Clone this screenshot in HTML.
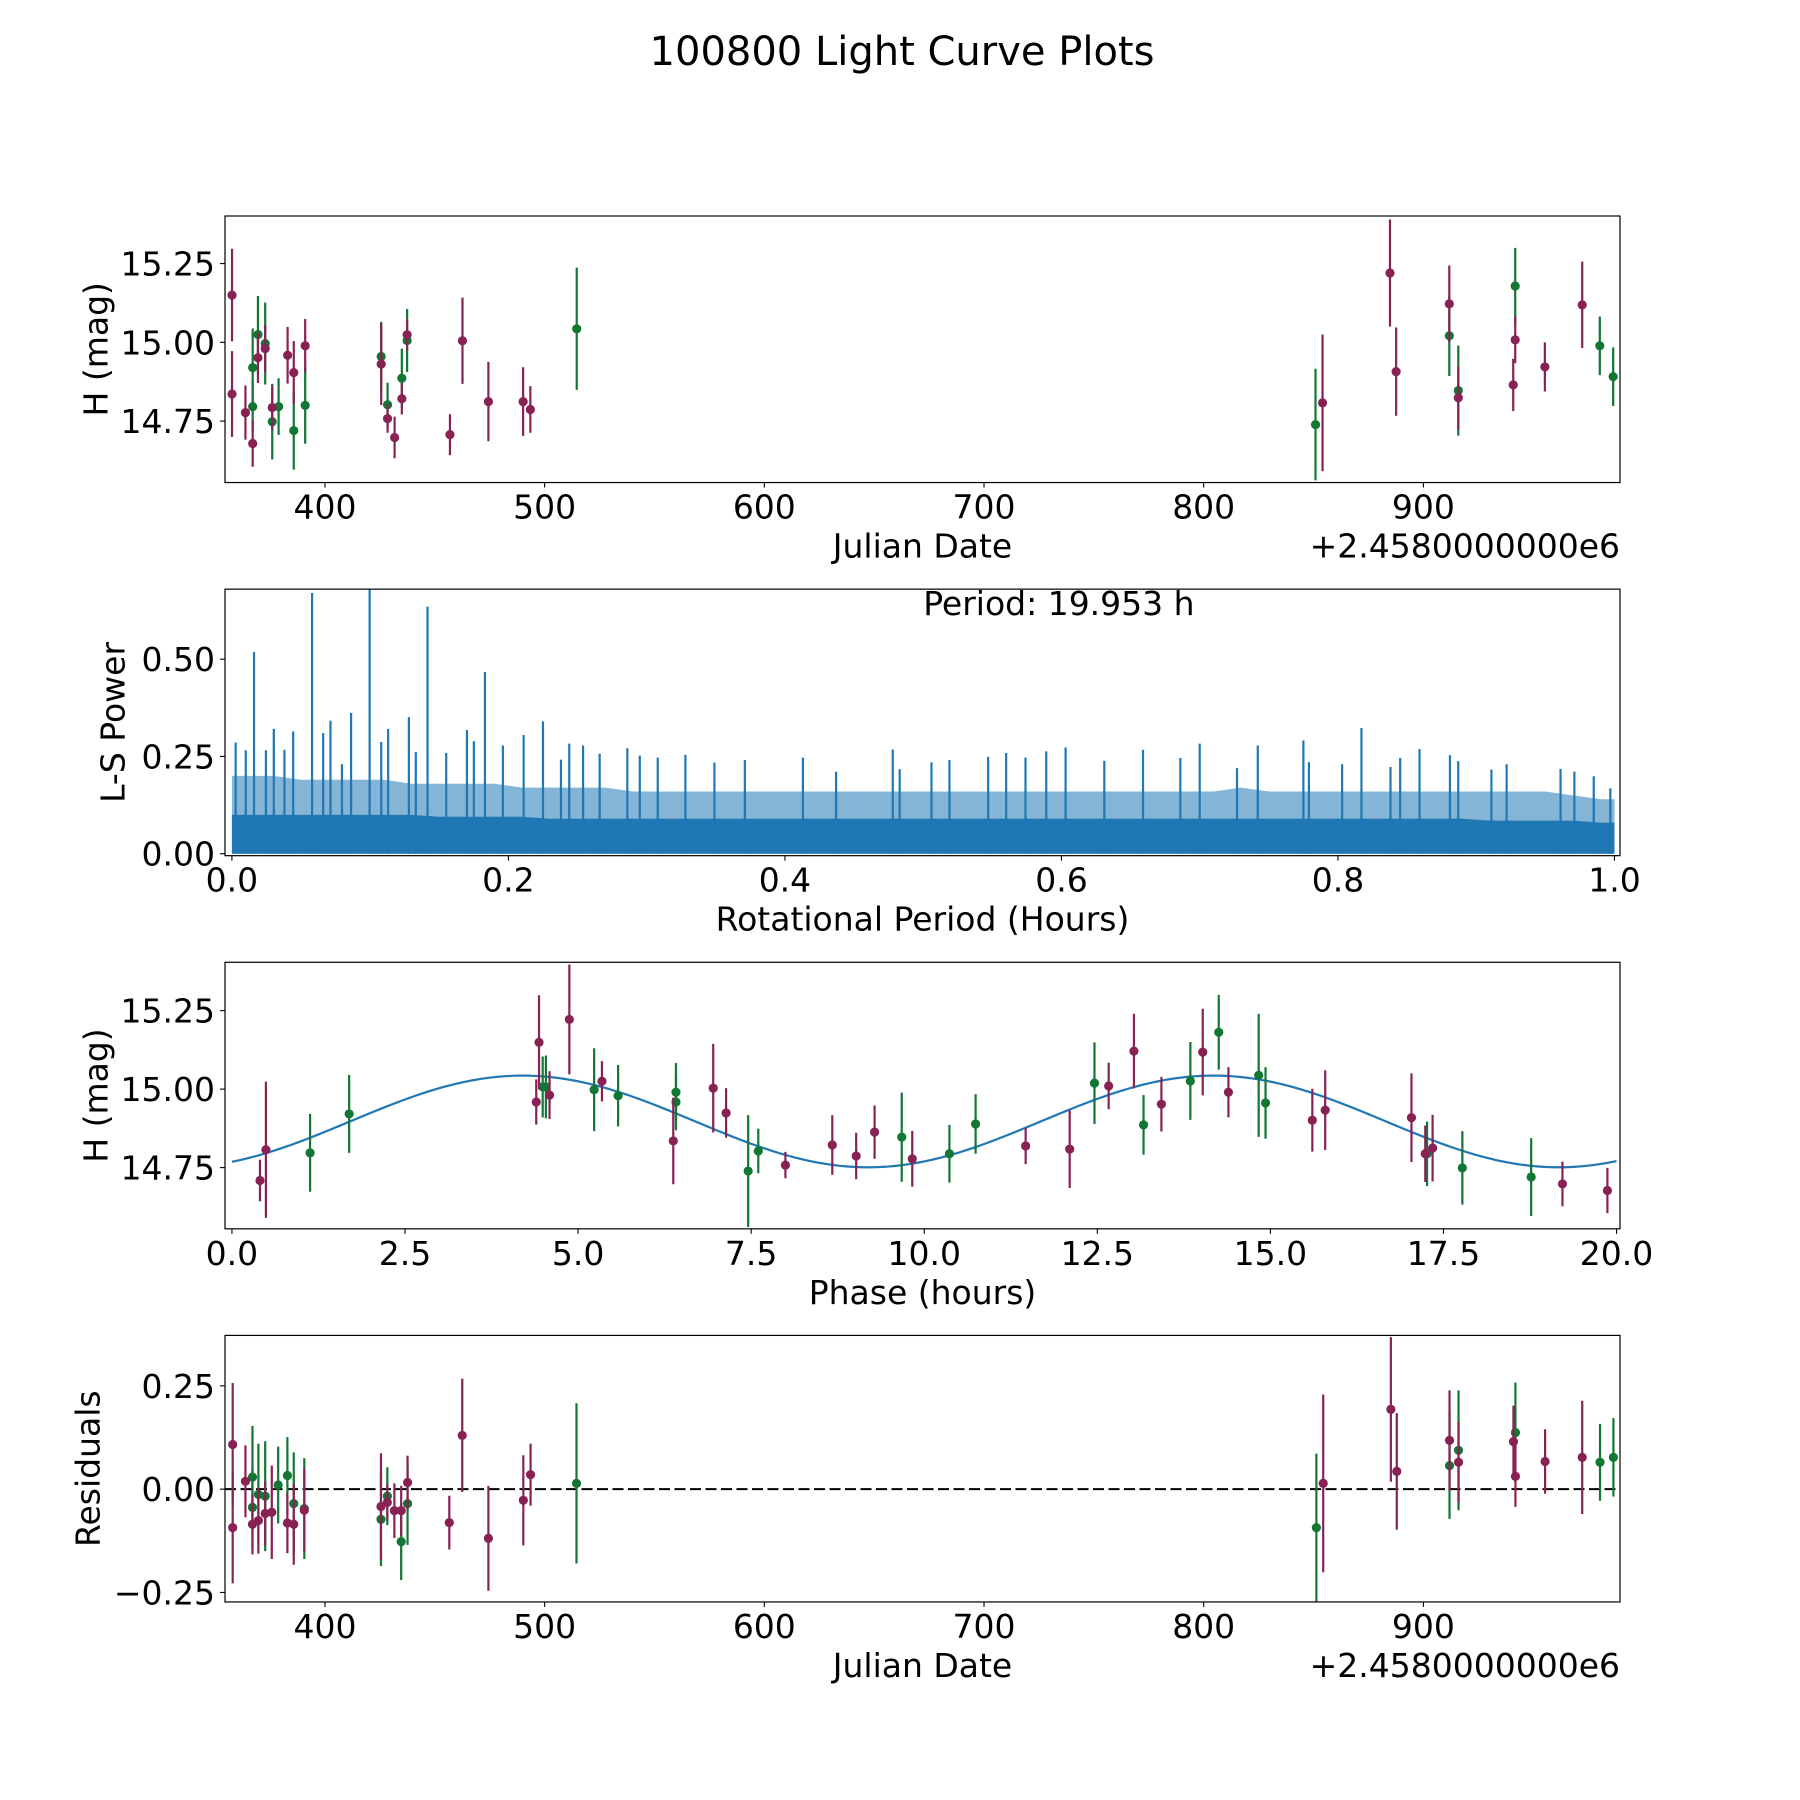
<!DOCTYPE html>
<html>
<head>
<meta charset="utf-8">
<style>
html,body{margin:0;padding:0;background:#fff;}
svg{display:block;}
text{font-family:"DejaVu Sans","Liberation Sans",sans-serif;fill:#000;}
</style>
</head>
<body>
<svg id="fig" width="1800" height="1800" viewBox="0 0 1800 1800" xmlns="http://www.w3.org/2000/svg">
<rect x="0" y="0" width="1800" height="1800" fill="#fff"/>
<text x="902" y="54" font-size="40" text-anchor="middle" dominant-baseline="middle">100800 Light Curve Plots</text>
</svg>
<script>
// ---------- Panel 1: light curve data ----------
const lcDays = [357.7,357.7,363.8,367.1,369.5,372.8,376.0,383.0,385.8,391.0,425.6,428.5,431.7,435.0,437.4,456.9,462.6,474.4,490.2,493.5,854.1,884.8,887.6,911.8,915.9,940.9,941.8,955.3,972.3,
                367.1,367.1,369.5,372.8,376.0,378.9,385.8,391.0,425.6,428.5,435.0,437.4,514.6,850.9,911.8,915.9,941.8,980.3,986.4];
const lcMag = [15.150,14.836,14.777,14.679,14.951,14.980,14.793,14.959,14.904,14.989,14.931,14.758,14.698,14.821,15.024,14.707,15.005,14.812,14.812,14.787,14.808,15.220,14.907,15.122,14.824,14.865,15.008,14.922,15.119,
               14.920,14.796,15.025,14.996,14.748,14.796,14.720,14.800,14.955,14.802,14.886,15.006,15.043,14.739,15.021,14.847,15.179,14.989,14.891];
const lcErr = [0.147,0.136,0.086,0.074,0.080,0.075,0.070,0.090,0.100,0.085,0.130,0.045,0.066,0.050,0.050,0.065,0.137,0.126,0.109,0.074,0.217,0.170,0.140,0.122,0.100,0.083,0.074,0.078,0.137,
               0.124,0.080,0.122,0.130,0.120,0.090,0.124,0.122,0.110,0.070,0.094,0.100,0.194,0.177,0.128,0.143,0.121,0.093,0.093];
const lcBand = ["p","p","p","p","p","p","p","p","p","p","p","p","p","p","p","p","p","p","p","p","p","p","p","p","p","p","p","p","p",
                "g","g","g","g","g","g","g","g","g","g","g","g","g","g","g","g","g","g","g"];

// ---------- Panel 2: periodogram ----------
const pgSolidLevel = [0.10,0.10,0.10,0.10,0.10,0.10,0.10,0.095,0.095,0.095,0.095,0.09,0.09,0.09,0.09,0.09,0.09,0.09,0.09,0.09,0.09,0.09,0.09,0.09,0.09,0.09,0.09,0.09,0.09,0.09,0.09,0.09,0.09,0.09,0.09,0.09,0.09,0.09,0.09,0.09,0.09,0.09,0.09,0.09,0.09,0.085,0.085,0.085,0.085,0.08];
const pgFuzzLevel = [0.20,0.20,0.19,0.19,0.19,0.19,0.18,0.18,0.18,0.18,0.17,0.17,0.17,0.17,0.16,0.16,0.16,0.16,0.16,0.16,0.16,0.16,0.16,0.16,0.16,0.16,0.16,0.16,0.16,0.16,0.16,0.16,0.16,0.16,0.16,0.16,0.17,0.16,0.16,0.16,0.16,0.16,0.16,0.16,0.16,0.16,0.16,0.16,0.15,0.14];
const pgSpikeX = [0.016,0.058,0.0996,0.1415,0.183,0.225,
  0.0027,0.010,0.0246,0.0303,0.038,0.0443,0.066,0.0713,0.0796,0.0862,0.108,0.113,0.128,0.133,0.155,0.170,0.175,0.196,0.211,0.238,0.244,0.254,0.266,0.286,0.295,0.308,0.328,0.349,0.371,0.413,0.437,0.478,0.483,0.506,
  0.519,0.547,0.560,0.574,0.589,0.603,0.631,0.659,0.686,0.700,0.727,0.742,0.775,0.779,0.803,0.817,0.838,0.845,0.859,0.881,0.887,0.911,0.922,0.961,0.971,0.985,0.997];
const pgSpikeP = [0.518,0.670,0.700,0.635,0.467,0.340,
  0.286,0.266,0.266,0.321,0.267,0.314,0.310,0.342,0.230,0.362,0.287,0.321,0.351,0.261,0.259,0.318,0.289,0.278,0.305,0.242,0.283,0.278,0.257,0.271,0.252,0.247,0.254,0.234,0.241,0.247,0.211,0.268,0.217,0.235,
  0.241,0.249,0.259,0.247,0.263,0.273,0.239,0.267,0.246,0.283,0.220,0.278,0.291,0.235,0.230,0.323,0.223,0.246,0.269,0.253,0.238,0.216,0.230,0.218,0.211,0.199,0.168];
const pgXTicks = [0.0,0.2,0.4,0.6,0.8,1.0];
const pgXTickLabels = ["0.0","0.2","0.4","0.6","0.8","1.0"];
const pgYTicks = [0.0,0.25,0.5];
const pgYTickLabels = ["0.00","0.25","0.50"];

// ---------- Panel 3: phased curve ----------
const phPhase = [0.405,0.491,4.396,4.436,4.588,4.874,5.345,6.375,6.952,7.138,7.995,8.672,9.017,9.283,9.827,11.465,12.101,12.664,13.029,13.426,14.023,14.394,15.606,15.792,17.038,17.237,17.343,19.219,19.868,
                 1.129,1.693,4.489,4.535,5.232,5.578,6.414,6.414,7.457,7.603,9.675,10.364,10.742,12.459,13.168,13.844,14.254,14.831,14.930,17.263,17.773,18.767];
const phMag = [14.709,14.807,14.959,15.149,14.981,15.222,15.025,14.835,15.003,14.924,14.758,14.822,14.787,14.863,14.778,14.819,14.809,15.010,15.121,14.952,15.118,14.990,14.901,14.933,14.909,14.794,14.812,14.698,14.677,
               14.797,14.921,15.007,15.007,14.998,14.979,14.990,14.959,14.739,14.803,14.847,14.794,14.889,15.019,14.886,15.026,15.181,15.044,14.956,14.794,14.749,14.720];
const phErr = [0.066,0.217,0.072,0.150,0.076,0.175,0.064,0.138,0.141,0.079,0.042,0.095,0.074,0.085,0.089,0.058,0.124,0.074,0.119,0.087,0.138,0.080,0.100,0.127,0.141,0.090,0.106,0.071,0.072,
               0.124,0.124,0.097,0.100,0.132,0.098,0.093,0.090,0.178,0.071,0.142,0.092,0.095,0.130,0.095,0.124,0.119,0.196,0.114,0.103,0.117,0.124];
const phBand = ["p","p","p","p","p","p","p","p","p","p","p","p","p","p","p","p","p","p","p","p","p","p","p","p","p","p","p","p","p",
                "g","g","g","g","g","g","g","g","g","g","g","g","g","g","g","g","g","g","g","g","g","g"];
const fitMean = 14.897;
const fitAmp = 0.146;
const fitPeriod = 9.9765;
const fitPeak = 4.2;
const phXTicks = [0,2.5,5,7.5,10,12.5,15,17.5,20];
const phXTickLabels = ["0.0","2.5","5.0","7.5","10.0","12.5","15.0","17.5","20.0"];

// ---------- Panel 4: residuals ----------
const resDays = [358.0,358.0,363.8,367.0,369.7,372.8,375.8,382.9,385.8,390.6,425.5,428.4,431.6,434.7,437.6,456.6,462.5,474.4,490.3,493.6,854.4,885.2,887.9,911.9,916.0,941.0,941.9,955.4,972.3,
                 367.0,367.0,369.7,372.8,378.7,382.9,385.8,390.6,425.5,428.4,434.7,437.6,514.5,851.3,911.9,916.0,941.9,980.4,986.5];
const resVal = [0.108,-0.093,0.019,-0.085,-0.076,-0.059,-0.056,-0.082,-0.085,-0.051,-0.042,-0.032,-0.052,-0.052,0.016,-0.081,0.130,-0.119,-0.027,0.035,0.014,0.193,0.043,0.118,0.065,0.115,0.031,0.067,0.077,
                0.029,-0.044,-0.013,-0.017,0.010,0.033,-0.035,-0.047,-0.073,-0.017,-0.127,-0.035,0.014,-0.093,0.057,0.094,0.137,0.065,0.077];
const resErr = [0.149,0.135,0.087,0.073,0.080,0.078,0.113,0.073,0.098,0.100,0.129,0.045,0.066,0.060,0.065,0.065,0.137,0.127,0.109,0.075,0.215,0.175,0.141,0.121,0.098,0.087,0.074,0.078,0.137,
                0.124,0.100,0.123,0.133,0.093,0.093,0.124,0.122,0.113,0.070,0.093,0.100,0.194,0.179,0.129,0.145,0.121,0.093,0.095];
const resBand = lcBand.slice();

const jdXTicks = [400,500,600,700,800,900];
const jdXTickLabels = ["400","500","600","700","800","900"];
const magYTicks = [14.75,15.0,15.25];
const magYTickLabels = ["14.75","15.00","15.25"];
const resYTicks = [-0.25,0,0.25];
const resYTickLabels = ["\u22120.25","0.00","0.25"];

// ---------- drawing ----------
const NS = "http://www.w3.org/2000/svg";
const svg = document.getElementById("fig");
const COL = {p:"#882255", g:"#117733"};
const FS = 33;
function mk(tag, attrs, parent){
  const e = document.createElementNS(NS, tag);
  for (const k in attrs) e.setAttribute(k, attrs[k]);
  (parent||svg).appendChild(e);
  return e;
}
const X0 = 225, X1 = 1620, H = 266.54, GAP = 106.6;
function axesBox(i, xmin, xmax, ymin, ymax){
  const y0 = 216 + i*(H+GAP);
  return {x0:X0, x1:X1, y0:y0, y1:y0+H, xmin:xmin, xmax:xmax, ymin:ymin, ymax:ymax,
    sx:function(v){return X0 + (v-xmin)/(xmax-xmin)*(X1-X0);},
    sy:function(v){return y0+H - (v-ymin)/(ymax-ymin)*H;}};
}
function makeClip(ax, id){
  const cp = mk("clipPath", {id:id});
  mk("rect", {x:ax.x0, y:ax.y0, width:ax.x1-ax.x0, height:ax.y1-ax.y0}, cp);
}
function frame(ax, name){
  const r = mk("rect", {x:ax.x0, y:ax.y0, width:ax.x1-ax.x0, height:ax.y1-ax.y0, fill:"none", stroke:"#000", "stroke-width":1.2});
  
  
}
function xTicks(ax, vals, labels, name){
  const g = mk("g", {});
  
  
  vals.forEach(function(v, i){
    const x = ax.sx(v);
    mk("line", {x1:x, y1:ax.y1, x2:x, y2:ax.y1+5, stroke:"#000", "stroke-width":1.1}, g);
    const t = mk("text", {x:x, y:ax.y1+36, "font-size":FS, "text-anchor":"middle"}, g);
    t.textContent = labels[i];
    
    
  });
}
function yTicks(ax, vals, labels, name){
  const g = mk("g", {});
  
  
  vals.forEach(function(v, i){
    const y = ax.sy(v);
    mk("line", {x1:ax.x0-5, y1:y, x2:ax.x0, y2:y, stroke:"#000", "stroke-width":1.1}, g);
    const t = mk("text", {x:ax.x0-10, y:y+12, "font-size":FS, "text-anchor":"end"}, g);
    t.textContent = labels[i];
    
    
  });
}
function xLabel(ax, txt, name){
  const t = mk("text", {x:(ax.x0+ax.x1)/2, y:ax.y1+75, "font-size":FS, "text-anchor":"middle"});
  t.textContent = txt;
  
  
}
function yLabel(ax, txt, cx, name){
  const cy = (ax.y0+ax.y1)/2;
  const t = mk("text", {x:cx, y:cy, "font-size":FS, "text-anchor":"middle", "dominant-baseline":"middle", transform:"rotate(-90 "+cx+" "+cy+")"});
  t.textContent = txt;
  
  
}
function offsetText(ax){
  const t = mk("text", {x:ax.x1, y:ax.y1+75, "font-size":FS, "text-anchor":"end"});
  t.textContent = "+2.4580000000e6";
  
  
}
function errPoints(ax, xs, ys, es, bands, clipId, name){
  const g = mk("g", {"clip-path":"url(#"+clipId+")"});
  
  
  ["g","p"].forEach(function(b){
    for (let i=0;i<xs.length;i++){
      if (bands[i]!==b) continue;
      const x = ax.sx(xs[i]);
      const bar = mk("line", {x1:x, y1:ax.sy(ys[i]-es[i]), x2:x, y2:ax.sy(ys[i]+es[i]), stroke:COL[b], "stroke-width":2.2}, g);
      
      
      const c = mk("circle", {cx:x, cy:ax.sy(ys[i]), r:4.6, fill:COL[b]}, g);
      
      
    }
  });
}

// Panel 1
const ax1 = axesBox(0, 354.5, 989.5, 14.555, 15.401);
makeClip(ax1, "c1");
errPoints(ax1, lcDays, lcMag, lcErr, lcBand, "c1", "light-curve-points");
frame(ax1, "light-curve-axes");
xTicks(ax1, jdXTicks, jdXTickLabels, "light-curve");
yTicks(ax1, magYTicks, magYTickLabels, "light-curve");
xLabel(ax1, "Julian Date", "light-curve-x-axis-title");
offsetText(ax1);
yLabel(ax1, "H (mag)", 98, "light-curve-y-axis-title");

// Panel 2
const ax2 = axesBox(1, -0.005, 1.004, -0.005, 0.68);
makeClip(ax2, "c2");
const pg = mk("g", {"clip-path":"url(#c2)"});


function levelPath(levels){
  const n = levels.length;
  let d = "M" + ax2.sx(0) + " " + ax2.sy(0);
  for (let i=0;i<n;i++){
    const xm = ax2.sx((i+0.5)/n), y = ax2.sy(levels[i]);
    if (i===0) d += " L" + ax2.sx(0) + " " + y;
    d += " L" + xm + " " + y;
  }
  d += " L" + ax2.sx(1) + " " + ax2.sy(levels[n-1]) + " L" + ax2.sx(1) + " " + ax2.sy(0) + " Z";
  return d;
}
const fuzz = mk("path", {d:levelPath(pgFuzzLevel), fill:"#1f77b4", "fill-opacity":0.55, stroke:"none"}, pg);


const solid = mk("path", {d:levelPath(pgSolidLevel), fill:"#1f77b4", stroke:"none"}, pg);


for (let i=0;i<pgSpikeX.length;i++){
  const x = ax2.sx(pgSpikeX[i]);
  const s = mk("line", {x1:x, y1:ax2.sy(0), x2:x, y2:ax2.sy(pgSpikeP[i]), stroke:"#1f77b4", "stroke-width":2.2}, pg);
  
  
}
frame(ax2, "periodogram-axes");
xTicks(ax2, pgXTicks, pgXTickLabels, "periodogram");
yTicks(ax2, pgYTicks, pgYTickLabels, "periodogram");
xLabel(ax2, "Rotational Period (Hours)", "periodogram-x-axis-title");
yLabel(ax2, "L-S Power", 115, "periodogram-y-axis-title");
const per = mk("text", {x:ax2.sx(0.5), y:615, "font-size":FS, "text-anchor":"start"});
per.textContent = "Period: 19.953 h";



// Panel 3
const ax3 = axesBox(2, -0.1, 20.05, 14.555, 15.404);
makeClip(ax3, "c3");
(function(){
  let d = "";
  for (let k=0;k<=400;k++){
    const p = 20*k/400;
    const m = fitMean + fitAmp*Math.cos(2*Math.PI*(p-fitPeak)/fitPeriod);
    d += (k===0?"M":" L") + ax3.sx(p).toFixed(2) + " " + ax3.sy(m).toFixed(2);
  }
  const fl = mk("path", {d:d, fill:"none", stroke:"#1f77b4", "stroke-width":2.2, "clip-path":"url(#c3)"});
  
  
})();
errPoints(ax3, phPhase, phMag, phErr, phBand, "c3", "phased-points");
frame(ax3, "phase-axes");
xTicks(ax3, phXTicks, phXTickLabels, "phase");
yTicks(ax3, magYTicks, magYTickLabels, "phase");
xLabel(ax3, "Phase (hours)", "phase-x-axis-title");
yLabel(ax3, "H (mag)", 98, "phase-y-axis-title");

// Panel 4
const ax4 = axesBox(3, 354.5, 989.5, -0.273, 0.372);
makeClip(ax4, "c4");
const zl = mk("line", {x1:ax4.x0, y1:ax4.sy(0), x2:ax4.x1, y2:ax4.sy(0), stroke:"#000", "stroke-width":2, "stroke-dasharray":"11 4.5"});


errPoints(ax4, resDays, resVal, resErr, resBand, "c4", "residual-points");
frame(ax4, "residuals-axes");
xTicks(ax4, jdXTicks, jdXTickLabels, "residuals");
yTicks(ax4, resYTicks, resYTickLabels, "residuals");
xLabel(ax4, "Julian Date", "residuals-x-axis-title");
offsetText(ax4);
yLabel(ax4, "Residuals", 90, "residuals-y-axis-title");
</script>
</body>
</html>
